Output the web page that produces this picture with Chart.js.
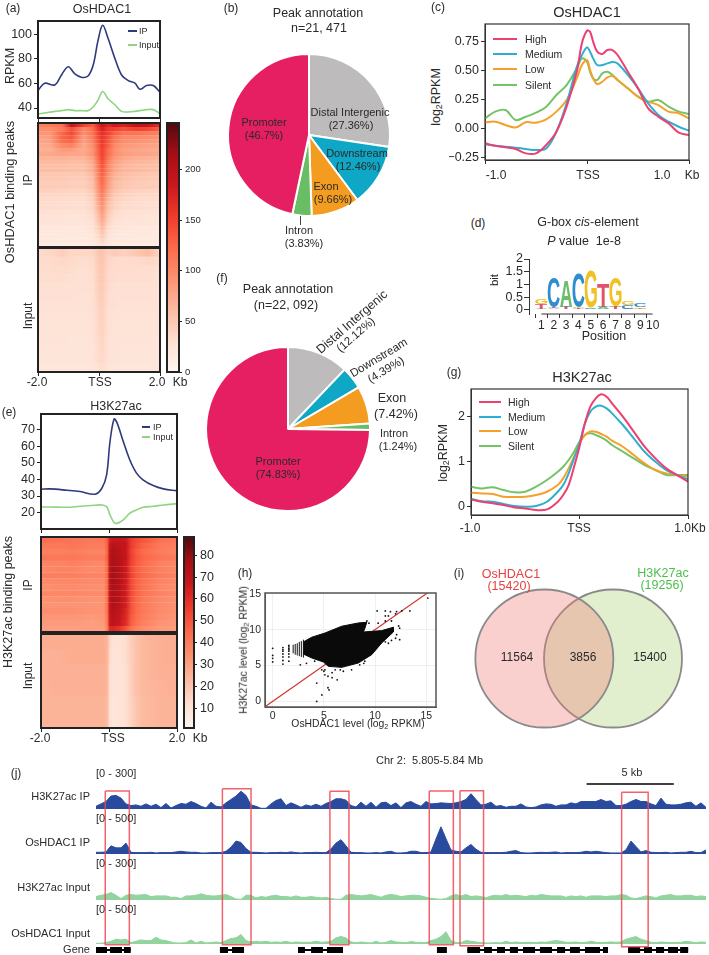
<!DOCTYPE html>
<html lang="en">
<head>
<meta charset="UTF-8" />
<title>OsHDAC1 and H3K27ac binding peaks</title>
<style>
  body{margin:0;width:709px;height:955px;overflow:hidden;background:#fff;position:relative;font-family:"Liberation Sans",Arial,sans-serif;color:#2a2a2a;}
  canvas{position:absolute;}
  .t{position:absolute;white-space:pre;line-height:1;transform:translate(-50%,-50%);}
  .t sub{font-size:70%;line-height:0;vertical-align:-0.25em;}
  .sw{position:absolute;}
</style>
<script src="https://cdn.jsdelivr.net/npm/chart.js@4.4.0/dist/chart.umd.min.js"></script>
</head>
<body>
<script>
// ===== (a) OsHDAC1 profile =====
const aKb = [-2,-1.78,-1.45,-1.23,-1.01,-.79,-.58,-.36,-.19,-.03,.12,.3,.52,.74,.96,1.18,1.34,1.56,1.78,2];
const aIP = [54.3,60.2,58.8,66.9,73.6,67.7,65,66.1,75,95.2,107.3,96.5,80.4,66.9,62.3,60.2,55.3,58.3,58.3,52.9];
const aInput = [35.2,36,37.3,37.9,38.7,37.9,37.9,37.9,40.8,46.7,53.5,47.5,42.7,37.3,36.8,37.3,37.9,38.7,38.7,35.4];
const aTicks = [40,60,80,100];

// ===== (a) heatmaps, rows top to bottom =====
const aHeatKb = [-2,-1.6,-1.2,-.9,-.5,-.2,0,.1,.3,.5,.8,1.2,1.6,2];
const aHeatIP = [
  [105,110,115,190,150,130,170,190,170,185,175,195,190,165],
  [95,95,110,140,100,120,160,175,155,150,140,150,145,130],
  [90,90,125,145,95,115,150,165,150,130,115,115,110,105],
  [80,85,125,135,85,110,145,160,140,115,100,100,95,90],
  [78,80,120,125,80,105,140,158,135,110,95,92,88,85],
  [72,75,100,105,75,95,135,155,130,100,88,85,80,78],
  [70,70,85,85,72,90,130,150,120,95,82,78,75,72],
  [75,76,80,78,76,92,130,150,120,96,85,80,78,75],
  [65,66,68,66,65,82,125,148,112,88,76,70,68,65],
  [62,62,62,60,60,76,120,142,105,82,70,65,62,60],
  [58,58,58,56,56,70,115,138,100,78,66,60,58,56],
  [60,60,59,58,58,72,112,135,100,78,66,62,60,58],
  [52,52,52,50,50,64,108,130,92,70,60,54,52,50],
  [50,50,50,48,47,60,105,125,88,66,56,52,50,48],
  [46,46,46,44,44,56,100,122,84,60,52,48,46,44],
  [48,48,47,46,46,56,98,118,82,60,52,48,47,46],
  [42,42,41,40,40,50,92,112,76,54,46,42,40,40],
  [38,38,38,37,36,46,88,108,70,50,42,38,37,36],
  [36,36,35,34,34,44,82,102,64,46,38,35,34,34],
  [33,33,32,32,31,40,76,96,58,42,35,32,32,31],
  [34,34,33,32,32,40,72,92,56,42,35,33,32,32],
  [29,29,28,28,28,36,66,86,50,36,30,28,28,28],
  [27,27,26,26,26,33,60,80,46,33,28,27,26,26],
  [26,25,25,24,24,30,56,75,42,30,26,25,24,24],
  [24,24,23,23,23,28,50,68,38,28,24,23,23,23],
  [22,22,21,21,21,26,45,62,34,25,22,21,21,21],
  [20,20,20,20,20,24,40,55,30,23,20,20,20,20],
  [19,19,18,18,18,22,36,48,27,21,19,18,18,18],
  [17,17,17,17,17,20,30,40,24,19,17,17,17,17],
  [15,15,15,15,15,17,24,30,20,16,15,15,15,15]
];
const aHeatInput = [
  [36,38,46,38,38,40,52,55,42,48,42,50,60,40],
  [34,35,38,35,32,35,50,53,38,36,34,34,38,34],
  [33,33,35,33,31,33,49,51,37,34,33,33,33,31],
  [32,32,33,31,30,32,48,50,36,33,32,32,32,30],
  [30,30,30,30,29,31,46,48,34,31,30,30,30,29],
  [29,29,29,29,28,30,44,47,33,30,29,29,29,28],
  [28,28,28,28,28,29,42,46,32,29,28,28,28,28],
  [27,27,27,27,26,28,40,44,30,28,27,27,27,26],
  [26,26,26,26,26,27,39,43,30,27,26,26,26,26],
  [26,26,26,25,25,27,38,42,29,27,26,26,26,25],
  [25,25,25,24,24,26,36,40,28,26,25,25,25,24],
  [24,24,24,24,24,25,35,38,27,25,24,24,24,24],
  [24,24,24,23,23,25,34,37,27,25,24,24,24,23],
  [22,22,22,22,22,24,30,33,25,23,22,22,22,22]
];
const aBarTicks = [0,50,100,150,200];

// ===== (b) and (f) pies =====
const pieLabels = ['Distal Intergenic','Downstream','Exon','Intron','Promoter'];
const bValues = [27.36,12.46,9.66,3.83,46.7];
const fValues = [12.12,4.39,7.42,1.24,74.83];
const pieColors = ['#BDBBBC','#0FA7C6','#F39C1F','#69BE65','#E61F63'];

// ===== (c) OsHDAC1 by expression =====
const cKb = [-1,-.9,-.8,-.7,-.6,-.5,-.4,-.3,-.2,-.1,-.05,0,.03,.06,.1,.15,.2,.25,.3,.4,.5,.6,.7,.8,.9,1];
const cHigh = [-.126,-.147,-.161,-.175,-.213,-.213,-.141,-.026,.19,.491,.736,.845,.836,.75,.664,.644,.678,.678,.635,.491,.348,.175,.103,.046,-.034,-.055];
const cMedium = [-.135,-.147,-.155,-.164,-.175,-.184,-.17,-.026,.218,.534,.635,.701,.664,.606,.549,.549,.563,.575,.563,.463,.348,.218,.118,.06,.017,-.017];
const cLow = [.055,.06,.032,.011,.055,.052,.08,.147,.247,.434,.549,.592,.506,.434,.385,.405,.443,.454,.42,.348,.276,.233,.204,.147,.132,.089];
const cSilent = [.089,.147,.161,.075,.103,.138,.19,.29,.376,.52,.606,.578,.491,.434,.42,.477,.491,.463,.42,.348,.276,.233,.247,.19,.147,.126];
const cTicks = [-.25,0,.25,.5,.75];

// ===== (d) G-box logo, bottom to top =====
const logoPositions = ['','1','2','3','4','5','6','7','8','9','10',''];
const logoBaseLetters = ['A','A','T','T','A','A','T','T','T','A'];
const logoBaseBits = [.05,.08,.1,.08,.05,.1,.1,.05,.05,.03];
const logoMidLetters = ['T','T','C','G','C','C','A','C','G','C'];
const logoMidBits = [.2,.04,.03,.03,.03,.03,.05,.15,.05,.02];
const logoTopLetters = ['G','C','A','C','G','T','G','G','C','G'];
const logoTopBits = [.2,1.2,1.02,1.32,1.42,.92,1.15,.15,.15,.02];
const logoColors = {A:'#6DBE6A',C:'#2E8FD0',G:'#F2C022',T:'#E0536F'};
const logoTicks = [0,.5,1,1.5,2];

// ===== (e) H3K27ac profile =====
const eKb = [-2,-1.73,-1.24,-.85,-.41,-.21,-.07,.03,.15,.24,.42,.61,.81,1,1.3,1.6,2];
const eIP = [34.1,34.3,33.5,32.7,31.1,34.7,42.8,62.9,76.5,74,62.9,51.9,43.8,39.8,36.3,34.3,33.1];
const eInput = [23.4,23.4,23.2,23.8,24.4,24.6,23.6,18.6,14,13.5,15.6,19.6,21.6,23.2,23.8,24.6,25.4];
const eTicks = [20,30,40,50,60,70];

// ===== (e) heatmaps =====
const eHeatKb = [-2,-1.5,-1,-.5,-.15,-.05,.02,.1,.3,.5,.65,.8,1,1.5,2];
const eHeatIP = [
  [43,42,41,40,40,47,64,68,68,66,56,52,49,42,40],
  [40,40,41,39,39,46,68,72,70,68,56,50,46,40,38],
  [38,38,39,37,37,45,70,74,72,67,54,48,44,39,37],
  [41,40,40,39,39,46,71,75,73,68,55,49,45,41,39],
  [37,37,38,36,36,44,71,75,73,66,54,48,44,38,36],
  [36,37,37,35,36,44,71,76,73,66,53,47,43,38,36],
  [38,38,38,37,37,44,72,76,73,66,54,48,44,39,37],
  [35,36,36,35,35,43,71,76,73,65,52,46,42,37,35],
  [34,35,35,34,34,43,70,75,72,65,52,46,42,36,34],
  [36,36,36,35,35,43,70,75,72,65,52,46,42,37,35],
  [33,34,34,33,33,42,70,75,72,64,51,45,40,36,33],
  [33,33,33,32,33,42,69,74,71,64,50,44,40,35,33],
  [34,34,34,33,33,42,68,73,70,62,50,44,40,35,33],
  [32,32,32,31,32,41,67,72,69,61,48,43,39,34,32],
  [31,31,31,30,31,40,66,71,67,60,47,42,38,33,31],
  [30,30,30,30,30,38,60,62,58,50,42,38,35,31,30]
];
const eHeatInput = [
  [26,26,26,26,26,24,14,10,10,12,17,20,23,25,26],
  [25,25,26,26,26,24,13,9,9,12,16,20,23,25,26],
  [25,25,25,25,25,23,12,9,9,11,16,20,23,25,25],
  [24,25,25,25,25,23,12,9,9,11,16,20,23,24,25],
  [24,24,24,24,24,22,11,8,9,11,15,19,22,24,24],
  [24,24,24,24,24,22,11,8,9,11,15,19,22,24,24]
];
const eBarTicks = [10,20,30,40,50,60,70,80];

// ===== (g) H3K27ac by expression =====
const gKb = [-1,-.9,-.8,-.7,-.6,-.5,-.4,-.3,-.2,-.15,-.1,-.05,0,.05,.1,.15,.2,.25,.3,.4,.5,.6,.7,.8,.9,1];
const gHigh = [.163,.111,.074,.037,-.015,-.037,-.074,-.059,.111,.259,.481,.889,1.333,1.852,2.222,2.407,2.496,2.444,2.296,2,1.667,1.333,1.074,.852,.704,.556];
const gMedium = [.178,.119,.111,.059,.015,0,.015,.111,.333,.481,.741,1.074,1.407,1.852,2.111,2.222,2.244,2.185,2.074,1.815,1.519,1.222,1,.815,.704,.607];
const gLow = [.311,.296,.281,.222,.215,.222,.259,.333,.481,.63,.852,1.111,1.407,1.593,1.674,1.667,1.615,1.556,1.467,1.333,1.148,.963,.815,.741,.704,.667];
const gSilent = [.444,.407,.43,.37,.319,.333,.444,.593,.778,.889,1.037,1.222,1.444,1.593,1.63,1.593,1.541,1.467,1.37,1.222,1.074,.926,.815,.704,.704,.704];
const gTicks = [0,1,2];

// ===== (h) scatter: dense cloud outline, then single points =====
const cloudX = [2.99,3.8,5.11,6.74,8.37,9.19,9.02,8.86,10.65,11.79,11.79,10.65,9.67,8.37,6.74,5.44,4.95,3.81,2.99];
const cloudY = [8.28,8.93,9.53,10.47,10.93,11.02,10.23,9.67,9.86,10.33,9.67,8.14,6.51,5.35,4.74,4.88,5.49,6.05,6.6];
const sparseX = [10.2,11,11.5,11,11.3,12,12.1,12.6,13.4,15.15,10.3,11,11.6,12.3,12.4,12.1,12,12.4,11.6,11.3,11,9.4,9.2,5,5.1,5.4,5.8,6.1,6.6,6.9,7.7,5.8,6.3,4.3,5.4,5.5,4.8,4.3,8.5,8.9,9,4.8,5.1,4.1,3.3,2.7,0,0,0,0,1,1,1,1,1,1,1,1.58,1.58,1.58,1.58,1.58,1.58,1.58,1.58];
const sparseY = [12.6,12.6,12.5,11.9,11.9,12.2,12.5,12.6,12.6,14.4,10.9,11.2,11.2,10.5,10.2,9.3,8.8,8.6,8.5,8.1,8.3,10.9,11.2,4.2,3.7,3.5,4,4.4,4.4,4.2,4.4,3.3,3,2.55,1.9,1.6,.9,0,5.1,5.3,5.6,4.4,4.4,5.6,5.3,5.1,5.5,6,6.4,7.4,5.2,5.7,6.2,6.6,7,7.2,7.5,5.6,6.2,6.6,7,7.2,7.4,7.6,7.8];
const stripeX = [2,2.2,2.4,2.6,2.8,3];
const stripeLow = [6.7,6.5,6.4,6.3,6.2,6.1];
const stripeHigh = [7.9,8,8.1,8.3,8.4,8.6];
const hTicks = [0,5,10,15];

// ===== (i) venn =====
const vennX = [.338,.65];
const vennY = [.5,.5];
const vennR = [69,69];

// ===== (j) browser tracks, sampled every 0.286 kb =====
const trackStep = .2864;
const trackH3IP = [24,45,66,114,120,96,45,30,36,24,45,24,42,12,48,9,30,48,42,66,48,24,9,60,24,18,54,84,114,156,120,36,24,6,6,45,75,90,30,54,36,15,36,24,42,24,48,66,90,90,78,30,18,
  60,24,60,15,54,60,30,54,12,54,66,42,24,66,45,48,54,51,48,54,66,84,135,84,36,42,60,24,30,15,24,24,45,18,12,18,36,45,42,24,36,36,54,45,66,66,66,66,84,66,72,30,30,42,66,84,66,66,45,30,96,42,36,36,42,54,60,24,54,15];
const trackHdIP = [25,25,30,120,90,90,160,25,20,20,20,25,15,20,20,20,30,40,30,25,25,15,15,20,20,20,40,100,190,170,80,25,25,20,15,20,20,25,20,30,20,15,20,20,25,20,20,75,160,210,120,25,20,
  20,15,15,20,15,30,40,15,15,20,40,40,20,20,30,220,400,225,60,40,30,90,140,70,25,20,20,20,20,25,40,50,20,15,15,20,25,20,25,30,15,20,20,20,25,40,30,40,30,20,15,15,15,60,190,110,30,50,25,20,20,25,15,20,25,25,40,20,20,60];
const trackH3Input = [30,42,48,66,42,12,42,48,42,45,48,30,36,36,36,24,24,12,36,36,42,54,42,36,36,42,48,30,9,6,42,42,18,30,24,36,42,30,30,24,36,24,24,30,24,18,24,12,6,6,42,48,42,
  36,42,48,36,24,42,48,42,30,36,42,42,36,24,15,9,6,12,36,48,36,48,30,36,30,18,36,42,36,48,36,42,36,30,42,36,48,42,36,36,36,24,36,30,36,24,36,36,36,30,36,36,48,42,18,12,24,36,30,18,36,42,48,36,36,42,42,30,36,30];
const trackHdInput = [10,10,20,40,70,60,70,20,40,60,50,50,100,60,50,30,15,15,20,60,15,40,15,20,30,20,50,80,90,140,50,30,40,30,40,25,30,25,40,20,30,25,25,25,40,25,30,40,90,110,90,30,20,
  30,20,15,40,15,25,50,30,25,20,35,25,20,20,50,70,110,180,50,20,20,50,40,30,20,15,15,20,15,40,20,30,20,25,25,20,30,25,40,50,40,25,25,30,20,25,40,25,20,25,30,25,30,70,90,110,70,50,25,20,30,25,20,25,25,40,30,20,30,25];
const boxStart = [.53,7.24,13.4,19.09,20.85,30.11];
const boxEnd = [1.91,8.88,14.49,20.47,22.2,31.63];
const boxTop = [11,8.7,11.3,11,10.7,12.3];
const boxBottom = [164.7,164.7,164.7,164.7,165.7,166.7];
const exonStart = [0,.8,1.6,7.1,7.79,11.57,12.32,13.23,19.53,21.27,22.23,22.97,23.71,24.46,25.43,26.41,27.15,28.01,29.04,30.48,31.39,32.08,32.77,33.46];
const exonEnd = [.63,1.49,1.99,7.56,8.48,11.97,13,14.15,20.1,22,22.68,23.43,24.17,25.15,26.12,26.87,27.72,28.87,29.33,31.17,31.85,32.54,33.34,33.92];
const arrowsLeft = [.3,1.2,7.3,8.2,11.8,12.7,13.6];
const arrowsRight = [19.8,21.6,22.5,23.2,24,24.8,25.8,26.7,27.5,28.5,30.8,31.6,32.3,33,33.7];
const scaleBarKb = [28.1,33.1];

// ===== colours =====
const navy = '#2E3A7E', mint = '#8FD47F';
const expColors = {High:'#EE3F71',Medium:'#2FAFCF',Low:'#F6A02C',Silent:'#74C366'};
const reds = [[255,245,240],[254,224,210],[252,187,161],[252,146,114],[251,106,74],[239,59,44],[203,24,29],[165,15,21],[80,10,15]];

function heatColor(v,max){
  const p = Math.min(Math.max(v/max,0),1)*(reds.length-1);
  const i = Math.min(Math.floor(p),reds.length-2), f = p-i;
  const c = reds[i].map((a,k)=>Math.round(a+(reds[i+1][k]-a)*f));
  return `rgb(${c[0]},${c[1]},${c[2]})`;
}

// ===== chart defaults =====
Chart.defaults.font.family = '"Liberation Sans",Arial,sans-serif';
Chart.defaults.color = '#2a2a2a';
Chart.defaults.animation = false;
Chart.defaults.responsive = false;
Chart.defaults.layout.autoPadding = false;
Chart.defaults.plugins.legend.display = false;
Chart.defaults.plugins.tooltip.enabled = false;

Chart.register({
  id:'frame',
  afterDraw(chart,args,opts){
    if(!opts.width) return;
    const a = chart.chartArea, c = chart.ctx;
    c.save();
    c.strokeStyle = opts.color;
    c.lineWidth = opts.width;
    c.strokeRect(a.left,a.top,a.right-a.left,a.bottom-a.top);
    c.restore();
  }
});

// canvas with room around the plot rectangle, axes are forced to that room
const M = 36;
function panel(l,t,w,h){
  const c = document.createElement('canvas');
  c.width = w+2*M;
  c.height = h+2*M;
  c.style.left = (l-M)+'px';
  c.style.top = (t-M)+'px';
  document.body.appendChild(c);
  return c;
}
const sideFit = s => { s.width = M; };
const baseFit = s => { s.height = M; };
const hiddenAxis = {ticks:{display:false},grid:{display:false},border:{display:false}};

function tickAxis(values,min,max,opt={}){
  return {
    type:'linear',min,max,
    afterBuildTicks:s=>{s.ticks = values.map(v=>({value:v}));},
    grid:{drawOnChartArea:false,tickLength:opt.tickLength??4,color:opt.color||'#222',lineWidth:opt.lineWidth||1},
    border:{color:opt.color||'#222'},
    ticks:{display:!!opt.size,font:{size:opt.size||12},padding:opt.padding??2,color:'#2a2a2a',autoSkip:false,maxRotation:0,callback:opt.format||(v=>v)}
  };
}

function linePanel(rect,xs,series,xRange,xTicks,yRange,yTicks,opt){
  const x = tickAxis(xTicks,xRange[0],xRange[1],{tickLength:opt.xTick??4,color:opt.axis});
  const y = tickAxis(yTicks,yRange[0],yRange[1],{size:opt.size||12.5,color:opt.axis,format:opt.format});
  x.afterFit = baseFit;
  y.afterFit = sideFit;
  return new Chart(panel(...rect),{
    type:'line',
    data:{datasets:series.map(s=>({
      data:xs.map((k,i)=>({x:k,y:s.values[i]})),
      borderColor:s.color,borderWidth:opt.lw||1.6,pointRadius:0,tension:.35
    }))},
    options:{
      layout:{padding:{top:M,right:M}},
      scales:{x,y},
      plugins:{frame:{width:opt.frame||2,color:opt.axis||'#222'}}
    }
  });
}

function heatPanel(rect,rows,cols,max,showTicks){
  const x = showTicks
    ? tickAxis([-2,0,2],-2,2,{tickLength:4})
    : {type:'linear',min:-2,max:2,...hiddenAxis};
  x.afterFit = baseFit;
  return new Chart(panel(...rect),{
    type:'bar',
    data:{
      labels:rows.map((_,i)=>i),
      datasets:[{
        data:rows.map(()=>[-2,2]),
        barPercentage:1.06,categoryPercentage:1,borderWidth:0,
        backgroundColor:ctx=>{
          const a = ctx.chart.chartArea;
          if(!a) return 'transparent';
          const g = ctx.chart.ctx.createLinearGradient(a.left,0,a.right,0);
          cols.forEach((k,j)=>g.addColorStop((k+2)/4,heatColor(rows[ctx.dataIndex][j],max)));
          return g;
        }
      }]
    },
    options:{
      indexAxis:'y',
      layout:{padding:{top:M,right:M}},
      scales:{x,y:{...hiddenAxis,afterFit:sideFit}},
      plugins:{frame:{width:2,color:'#222'}}
    }
  });
}

function colorBar(rect,min,max,ticks,size){
  const y = tickAxis(ticks,min,max,{size,tickLength:3,padding:3});
  y.position = 'right';
  y.afterFit = sideFit;
  return new Chart(panel(...rect),{
    type:'bar',
    data:{labels:[''],datasets:[{
      data:[[min,max]],barPercentage:1,categoryPercentage:1,
      backgroundColor:ctx=>{
        const a = ctx.chart.chartArea;
        if(!a) return 'transparent';
        const g = ctx.chart.ctx.createLinearGradient(0,a.bottom,0,a.top);
        reds.forEach((c,i)=>g.addColorStop(i/(reds.length-1),`rgb(${c[0]},${c[1]},${c[2]})`));
        return g;
      }
    }]},
    options:{
      layout:{padding:{top:M,left:M}},
      scales:{x:{...hiddenAxis,afterFit:baseFit},y},
      plugins:{frame:{width:2,color:'#222'}}
    }
  });
}

function piePanel(cx,cy,r,values){
  const c = document.createElement('canvas');
  c.width = c.height = 2*r+8;
  c.style.left = (cx-r-4)+'px';
  c.style.top = (cy-r-4)+'px';
  document.body.appendChild(c);
  return new Chart(c,{
    type:'pie',
    data:{labels:pieLabels,datasets:[{data:values,backgroundColor:pieColors,borderColor:'#fff',borderWidth:2}]},
    options:{radius:r}
  });
}

function trackPanel(bottom,values,max,color,line){
  const x = {type:'linear',min:0,max:35,...hiddenAxis,afterFit:baseFit};
  const y = {type:'linear',min:-max*.03,max,...hiddenAxis,afterFit:sideFit};
  return new Chart(panel(96,bottom-35,611,35),{
    type:'line',
    data:{datasets:[{
      data:values.map((v,i)=>({x:i*trackStep,y:v})),
      borderColor:line,borderWidth:1,backgroundColor:color,fill:'origin',pointRadius:0,tension:0
    }]},
    options:{layout:{padding:{top:M,right:M}},scales:{x,y}}
  });
}

// ===== (a) =====
linePanel([38,21,122,97],aKb,[{values:aIP,color:navy},{values:aInput,color:mint}],[-2,2],[-2,0,2],[31.9,110.8],aTicks,{});
heatPanel([38,123,122,124],aHeatIP,aHeatKb,246,false);
heatPanel([38,248,122,124],aHeatInput,aHeatKb,246,true);
colorBar([167,123,12,249],0,246,aBarTicks,9.5);

// ===== (b) (f) =====
piePanel(309,135,81,bValues);
piePanel(288,429,82,fValues);

// ===== (c) =====
linePanel([485,24,204,136],cKb,[
  {values:cHigh,color:expColors.High},{values:cMedium,color:expColors.Medium},
  {values:cLow,color:expColors.Low},{values:cSilent,color:expColors.Silent}
],[-1,1],[-1,0,1],[-.27,.9026],cTicks,{frame:1.2,axis:'#333',lw:2,format:v=>(v<0?'\u2212':'')+Math.abs(v).toFixed(2)});

// ===== (d) =====
const logoLayers = [
  {letters:logoBaseLetters,bits:logoBaseBits},
  {letters:logoMidLetters,bits:logoMidBits},
  {letters:logoTopLetters,bits:logoTopBits}
];
const logoDraw = {
  id:'logoDraw',
  afterDatasetsDraw(chart){
    const c = chart.ctx, x = chart.scales.x, bottom = chart.chartArea.bottom;
    logoLayers.forEach((layer,d)=>{
      chart.getDatasetMeta(d).data.forEach((bar,i)=>{
        const letter = layer.letters[i-1];
        if(!letter) return;
        const p = bar.getProps(['x','y','base','width'],true);
        const h = p.base-p.y, w = p.width;
        c.save();
        c.font = 'bold 100px "Liberation Sans",Arial,sans-serif';
        const m = c.measureText(letter);
        const mw = m.actualBoundingBoxLeft+m.actualBoundingBoxRight;
        const mh = m.actualBoundingBoxAscent+m.actualBoundingBoxDescent;
        c.translate(p.x-w/2,p.y);
        c.scale(w/mw,h/mh);
        c.fillStyle = logoColors[letter];
        c.fillText(letter,m.actualBoundingBoxLeft,m.actualBoundingBoxAscent);
        c.restore();
      });
    });
    c.save();
    c.strokeStyle = '#333';
    c.lineWidth = 1;
    c.beginPath();
    c.moveTo(x.getPixelForValue(1),bottom);
    c.lineTo(x.getPixelForValue(10),bottom);
    c.stroke();
    c.restore();
  }
};
new Chart(panel(529,259,136,55),{
  type:'bar',
  data:{
    labels:logoPositions,
    datasets:logoLayers.map(layer=>({
      data:[null,...layer.bits,null],
      backgroundColor:'transparent',barPercentage:.98,categoryPercentage:1
    }))
  },
  options:{
    layout:{padding:{top:M,right:M}},
    scales:{
      x:{
        stacked:true,offset:false,afterFit:baseFit,
        grid:{drawOnChartArea:false,tickLength:4,color:c=>(c.index>0&&c.index<11)?'#333':'transparent'},
        border:{display:false},
        ticks:{font:{size:12},padding:0,autoSkip:false,maxRotation:0,color:'#2a2a2a'}
      },
      y:{...tickAxis(logoTicks,-.157,2,{size:12.5,color:'#333',tickLength:5,padding:1}),stacked:true,afterFit:sideFit}
    }
  },
  plugins:[logoDraw]
});

// ===== (e) =====
linePanel([41,414,136,115],eKb,[{values:eIP,color:navy},{values:eInput,color:mint}],[-2,2],[-2,0,2],[10.1,79.5],eTicks,{});
heatPanel([41,537,136,95],eHeatIP,eHeatKb,88.4,false);
heatPanel([41,634,136,94],eHeatInput,eHeatKb,88.4,true);
colorBar([184,537,10,191],.87,88.4,eBarTicks,12.5);

// ===== (g) =====
linePanel([471,389,217,126],gKb,[
  {values:gHigh,color:expColors.High},{values:gMedium,color:expColors.Medium},
  {values:gLow,color:expColors.Low},{values:gSilent,color:expColors.Silent}
],[-1,1],[-1,0,1],[-.184,2.615],gTicks,{frame:1.2,axis:'#333',lw:2});

// ===== (h) =====
const hX = tickAxis(hTicks,-.75,15.95,{size:10.5,color:'#555',tickLength:3,padding:0});
const hY = tickAxis(hTicks,-.78,15.1,{size:10.5,color:'#555',tickLength:3,padding:1});
hX.grid.drawOnChartArea = true; hX.grid.color = '#EFEFEF'; hX.afterFit = baseFit;
hY.grid.drawOnChartArea = true; hY.grid.color = '#EFEFEF'; hY.afterFit = sideFit;
new Chart(panel(265,593,171,114),{
  type:'scatter',
  data:{datasets:[
    {data:cloudX.map((x,i)=>({x,y:cloudY[i]})),showLine:true,fill:'shape',backgroundColor:'#0a0a0a',borderColor:'#0a0a0a',borderWidth:1,pointRadius:0,tension:0},
    ...stripeX.map((x,i)=>({data:[{x,y:stripeLow[i]},{x,y:stripeHigh[i]}],showLine:true,borderColor:'#111',borderWidth:1,pointRadius:0})),
    {data:sparseX.map((x,i)=>({x,y:sparseY[i]})),backgroundColor:'#111',borderWidth:0,pointRadius:.9},
    {data:[{x:-.75,y:-.75},{x:15.1,y:15.1}],showLine:true,borderColor:'#D0312D',borderWidth:1.1,pointRadius:0}
  ]},
  options:{
    layout:{padding:{top:M,right:M}},
    scales:{x:hX,y:hY},
    plugins:{frame:{width:1.5,color:'#555'}}
  }
});

// ===== (i) =====
new Chart(panel(470,585,220,147),{
  type:'bubble',
  data:{datasets:[
    {data:[{x:vennX[0],y:vennY[0],r:vennR[0]}],backgroundColor:'rgba(240,120,115,.35)',borderColor:'#8A8A8A',borderWidth:1.8,clip:false},
    {data:[{x:vennX[1],y:vennY[1],r:vennR[1]}],backgroundColor:'rgba(165,205,105,.32)',borderColor:'#8A8A8A',borderWidth:1.8,clip:false}
  ]},
  options:{
    layout:{padding:{top:M,right:M}},
    scales:{
      x:{type:'linear',min:0,max:1,...hiddenAxis,afterFit:baseFit},
      y:{type:'linear',min:0,max:1,...hiddenAxis,afterFit:sideFit}
    }
  }
});

// ===== (j) =====
trackPanel(810,trackH3IP,300,'#2A4A9E','#2A4A9E');
trackPanel(855,trackHdIP,500,'#2A4A9E','#2A4A9E');
trackPanel(901,trackH3Input,300,'#93D3A0','#93D3A0');
trackPanel(945,trackHdInput,500,'#93D3A0','#93D3A0');

const geneY = 170, scaleBarY = 4;
new Chart(panel(96,780,611,175),{
  type:'scatter',
  data:{datasets:[
    ...boxStart.map((s,i)=>({
      data:[{x:s,y:boxTop[i]},{x:boxEnd[i],y:boxTop[i]},{x:boxEnd[i],y:boxBottom[i]},{x:s,y:boxBottom[i]},{x:s,y:boxTop[i]}],
      showLine:true,borderColor:'rgba(238,70,80,.85)',borderWidth:1.5,pointRadius:0
    })),
    ...exonStart.map((s,i)=>({
      data:[{x:s,y:geneY},{x:exonEnd[i],y:geneY}],
      showLine:true,borderColor:'#000',borderWidth:6,pointRadius:0
    })),
    {data:[[0,1.99],[7.1,8.48],[11.57,14.15],[21.27,29.33],[30.48,33.92]].flatMap(g=>[{x:g[0],y:geneY},{x:g[1],y:geneY},{x:NaN,y:NaN}]),showLine:true,spanGaps:false,borderColor:'#000',borderWidth:2,pointRadius:0},
    {data:arrowsLeft.map(x=>({x,y:geneY})),pointStyle:'triangle',rotation:-90,pointRadius:2,backgroundColor:'#fff',borderWidth:0},
    {data:arrowsRight.map(x=>({x,y:geneY})),pointStyle:'triangle',rotation:90,pointRadius:2,backgroundColor:'#fff',borderWidth:0},
    {data:scaleBarKb.map(x=>({x,y:scaleBarY})),showLine:true,borderColor:'#000',borderWidth:1.6,pointRadius:0}
  ]},
  options:{
    layout:{padding:{top:M,right:M}},
    scales:{
      x:{type:'linear',min:0,max:35,...hiddenAxis,afterFit:baseFit},
      y:{type:'linear',min:0,max:175,reverse:true,...hiddenAxis,afterFit:sideFit}
    }
  }
});

// ===== text =====
function tx(html,x,y,size,opt={}){
  const d = document.createElement('div');
  d.className = 't';
  d.innerHTML = html;
  d.style.left = x+'px';
  d.style.top = y+'px';
  d.style.fontSize = size+'px';
  if(opt.color) d.style.color = opt.color;
  let tr = opt.align==='l' ? 'translate(0,-50%)' : opt.align==='r' ? 'translate(-100%,-50%)' : 'translate(-50%,-50%)';
  if(opt.rot) tr += ` rotate(${opt.rot}deg)`;
  d.style.transform = tr;
  document.body.appendChild(d);
}
function swatch(x1,x2,y,color,h){
  const d = document.createElement('div');
  d.className = 'sw';
  d.style.cssText = `left:${x1}px;top:${y-h/2}px;width:${x2-x1}px;height:${h}px;background:${color}`;
  document.body.appendChild(d);
}

// panel letters
[['(a)',13,8],['(b)',231,8],['(c)',438,7],['(d)',478,223],['(e)',9,412],['(f)',222,278],['(g)',454,372],['(h)',245,573],['(i)',459,573],['(j)',16,773]]
  .forEach(p=>tx(p[0],p[1],p[2],12));

// (a)
tx('OsHDAC1',102,9,12.5);
tx('RPKM',10,66,12.5,{rot:-90});
tx('OsHDAC1 binding peaks',10,192,12.8,{rot:-90});
tx('IP',28,180,12,{rot:-90});
tx('Input',28,316,12,{rot:-90});
tx('-2.0',37,382,12); tx('TSS',100,382,12); tx('2.0',157,382,12); tx('Kb',180,382,12);
swatch(128,137,31,navy,1.5); tx('IP',139,31,9,{align:'l'});
swatch(128,137,45,mint,1.5); tx('Input',139,45,9,{align:'l'});

// (b)
tx('Peak annotation',318,13,12.5); tx('n=21, 471',319,28,12.5);
tx('Distal Intergenic',350,112,11); tx('(27.36%)',351,125,11);
tx('Promoter',264,122,11); tx('(46.7%)',264,135,11);
tx('Downstream',357,153,11); tx('(12.46%)',358,166,11);
tx('Exon',326,186,11); tx('(9.66%)',333,199,11);
swatch(300.3,301.3,220.5,'#444',9);
tx('Intron',299,230,11); tx('(3.83%)',304,243,11);

// (c)
tx('OsHDAC1',587,12,14.5);
tx('log<sub>2</sub>RPKM',436,97,12.5,{rot:-90});
tx('-1.0',496,175,12); tx('TSS',588,175,12); tx('1.0',662,175,12); tx('Kb',692,175,12);
[['High',39],['Medium',54],['Low',69],['Silent',85]].forEach(r=>{
  swatch(493,517,r[1],expColors[r[0]],2);
  tx(r[0],525,r[1],10.5,{align:'l'});
});

// (d)
tx('G-box <i>cis</i>-element',588,222,12.5);
tx('<i>P</i> value  1e-8',584,241,12.5);
tx('bit',495,280,11.5,{rot:-90});
tx('Position',604,336,12.5);

// (e)
tx('H3K27ac',116,406,12.5);
tx('H3K27ac binding peaks',8,602,12.5,{rot:-90});
tx('IP',28,585,12,{rot:-90});
tx('Input',28,676,12,{rot:-90});
tx('-2.0',40,738,12); tx('TSS',113,738,12); tx('2.0',177,738,12); tx('Kb',200,738,12);
swatch(142,150,427,navy,1.5); tx('IP',153,427,9,{align:'l'});
swatch(142,150,437,mint,1.5); tx('Input',153,437,9,{align:'l'});

// (f)
tx('Peak annotation',288,289,12.5); tx('(n=22, 092)',286,305,12.5);
tx('Distal Intergenic',352,322,12.5,{rot:-41});
tx('(12.12%)',356,335,11.5,{rot:-41});
tx('Downstream',379,358,11.5,{rot:-31});
tx('(4.39%)',386,370,11.5,{rot:-31});
tx('Exon',392,398,12.5); tx('(7.42%)',396,414,12.5);
tx('Intron',394,433,11); tx('(1.24%)',398,446,11);
tx('Promoter',278,461,11); tx('(74.83%)',278,474,11);

// (g)
tx('H3K27ac',582,377,14.5);
tx('log<sub>2</sub>RPKM',443,453,12.5,{rot:-90});
tx('-1.0',470,528,12); tx('TSS',579,528,12); tx('1.0Kb',690,528,12);
[['High',402],['Medium',417],['Low',431],['Silent',446]].forEach(r=>{
  swatch(479,501,r[1],expColors[r[0]],2);
  tx(r[0],508,r[1],10.5,{align:'l'});
});

// (h)
tx('H3K27ac level (log<sub>2</sub> RPKM)',244,650,10.4,{rot:-90});
tx('OsHDAC1 level (log<sub>2</sub> RPKM)',358,724,10.4);

// (i)
tx('OsHDAC1',511,574,12.5,{color:'#E84040'}); tx('(15420)',509,586,12.5,{color:'#E84040'});
tx('H3K27ac',663,573,12.5,{color:'#4DBE4D'}); tx('(19256)',662,585,12.5,{color:'#4DBE4D'});
tx('11564',517,657,12); tx('3856',583,657,12); tx('15400',650,657,12);

// (j)
tx('Chr 2:  5.805-5.84 Mb',376,760,11,{align:'l'});
tx('5 kb',632,772,11);
[['[0 - 300]',773],['[0 - 500]',818],['[0 - 300]',863],['[0 - 500]',909]].forEach(r=>tx(r[0],96,r[1],11,{align:'l'}));
[['H3K27ac IP',796],['OsHDAC1 IP',842],['H3K27ac Input',887],['OsHDAC1 Input',933],['Gene',949]].forEach(r=>tx(r[0],90,r[1],11,{align:'r'}));
</script>
</body>
</html>
